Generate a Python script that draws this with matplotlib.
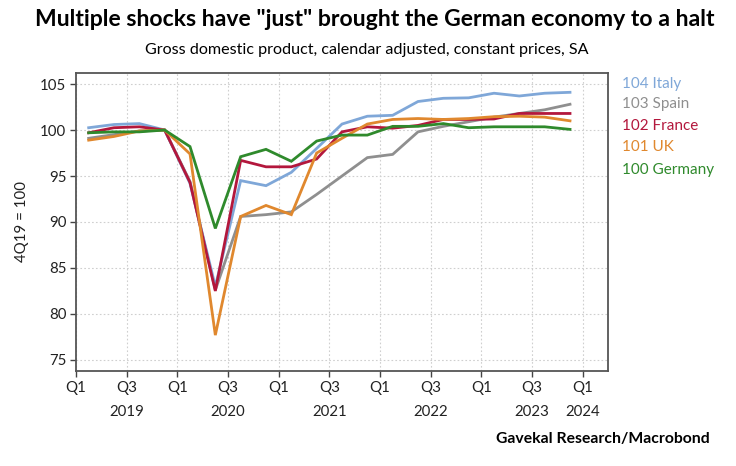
import matplotlib
matplotlib.use("Agg")
import matplotlib.pyplot as plt
from matplotlib import font_manager as fm
import numpy as np

# ---- data ----
quarters = ["2019Q1","2019Q2","2019Q3","2019Q4","2020Q1","2020Q2","2020Q3","2020Q4",
            "2021Q1","2021Q2","2021Q3","2021Q4","2022Q1","2022Q2","2022Q3","2022Q4",
            "2023Q1","2023Q2","2023Q3","2023Q4"]
italy   = [100.25,100.6,100.7,100.0,94.2,83.0,94.5,93.95,95.4,98.0,100.65,101.5,101.6,103.1,103.45,103.5,104.0,103.7,104.0,104.1]
spain   = [99.1,99.5,99.9,100.0,94.4,82.6,90.6,90.8,91.1,93.0,95.0,97.0,97.35,99.8,100.4,100.9,101.4,101.8,102.2,102.8]
france  = [99.7,100.25,100.35,100.0,94.3,82.5,96.7,96.0,96.0,96.85,99.8,100.35,100.2,100.5,101.15,101.15,101.2,101.8,101.8,101.8]
uk      = [98.9,99.3,99.9,100.0,97.4,77.7,90.6,91.8,90.8,97.5,99.1,100.65,101.15,101.25,101.15,101.25,101.45,101.5,101.4,101.0]
germany = [99.7,99.8,99.8,100.0,98.2,89.3,97.1,97.9,96.6,98.8,99.45,99.45,100.4,100.4,100.7,100.25,100.35,100.35,100.35,100.07]

legend_labels = ["104 Italy", "103 Spain", "102 France", "101 UK", "100 Germany"]
xtick_labels = ["Q1", "Q3"] * 5 + ["Q1"]
year_labels = ["2019", "2020", "2021", "2022", "2023", "2024"]
yticks = [75, 80, 85, 90, 95, 100, 105]

colors = ["#7fa7d8", "#8f8f8f", "#b3173c", "#e0882e", "#2f8a2c"]

avail = {f.name for f in fm.fontManager.ttflist}
def pick(*names):
    for n in names:
        if n in avail:
            return n
    return "DejaVu Sans"
base_font = pick("Lato", "Open Sans", "Noto Sans")
title_font = pick("Liberation Sans Narrow", "Lato", "Open Sans")
plt.rcParams["font.family"] = [base_font, "DejaVu Sans"]

fig = plt.figure(figsize=(7.36, 4.66), dpi=100)
ax = fig.add_axes([76/736, 1-371/466, (608-76)/736, (371-73)/466])

# x positions in quarters since 2019Q1, points at mid-quarter
xpos = np.arange(len(quarters)) + 0.5
order = [(spain, colors[1]), (italy, colors[0]), (france, colors[2]), (uk, colors[3]), (germany, colors[4])]
for series, c in order:
    ax.plot(xpos, series, color=c, lw=2.0, solid_joinstyle="miter")

ax.set_xlim(0, 21)
ax.set_ylim(73.8, 106.2)
tick_pos = np.arange(0, 21, 2)
ax.set_xticks(tick_pos)
ax.set_xticklabels(xtick_labels, fontsize=10.8, color="#222222")
ax.set_yticks(yticks)
ax.set_yticklabels([str(v) for v in yticks], fontsize=10.8, color="#222222")
ax.tick_params(axis="both", direction="out", length=4, width=1, color="#444444", pad=3)
ax.grid(True, linestyle=(0, (1.5, 2)), color="#cfcfcf", lw=0.8)
for s in ax.spines.values():
    s.set_color("#555555")
    s.set_linewidth(1.3)

# year labels
year_x = [2, 6, 10, 14, 18, 20]
for yx, lab in zip(year_x, year_labels):
    ax.text(yx, -0.138, lab, transform=ax.get_xaxis_transform(), ha="center", va="center",
            fontsize=10.8, color="#222222")

ax.set_ylabel("4Q19 = 100", fontsize=10.8, color="#222222", labelpad=8)

# legend text
leg_y = [84, 104, 126, 147, 170]
for lab, c, yy in zip(legend_labels, colors, leg_y):
    fig.text(622/736, 1-yy/466, lab, color=c, fontsize=11, ha="left", va="center")

fig.text(375/736, 1-20/466, 'Multiple shocks have "just" brought the German economy to a halt',
         fontsize=16.6, fontweight="bold", ha="center", va="center", family=[title_font, "DejaVu Sans"])
fig.text(367/736, 1-50/466, "Gross domestic product, calendar adjusted, constant prices, SA",
         fontsize=11.6, ha="center", va="center", family=[title_font, "DejaVu Sans"])
fig.text(710/736, 1-439/466, "Gavekal Research/Macrobond", fontsize=11.3, fontweight="bold",
         ha="right", va="center", family=[title_font, "DejaVu Sans"])

fig.savefig("out.png", dpi=100)
